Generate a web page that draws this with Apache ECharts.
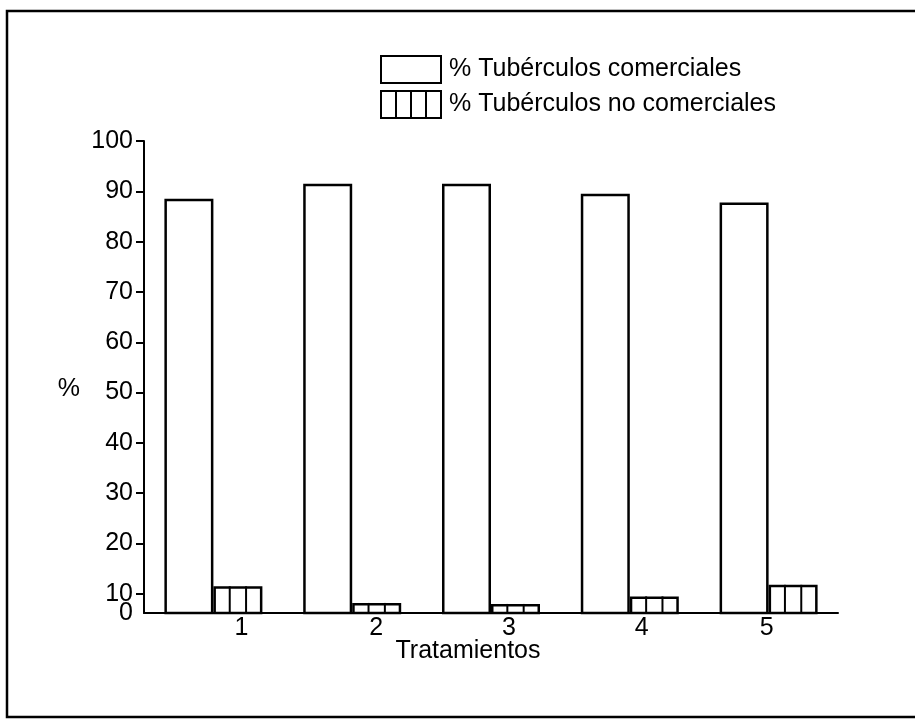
<!DOCTYPE html>
<html><head><meta charset="utf-8">
<script src="https://cdn.jsdelivr.net/npm/echarts@6/dist/echarts.min.js"></script>
<style>html,body{margin:0;padding:0;background:#fff}#c{width:915px;height:720px}</style>
</head><body><div id="c"></div>
<script>
const categories = ['1', '2', '3', '4', '5'];
const comerciales = [88.5, 91.5, 91.5, 89.5, 87.8];
const noComerciales = [11.5, 8.2, 8.0, 9.5, 11.8];
const yTickValues = [10, 20, 30, 40, 50, 60, 70, 80, 90, 100];
const seriesNames = ['% Tubérculos comerciales', '% Tubérculos no comerciales'];
const xName = 'Tratamientos';
const yName = '%';

const Y_MIN = 6.2;   // baseline of the (compressed) axis, labelled "0" in the original
const Y_MAX = 100;
const BAR_W = 49;
const FONT = '"Liberation Sans", Arial, Helvetica, sans-serif';
const FS = 25;
// per-category label shifts (the original's labels sit right of the bar pairs)
const labelShift = [28, 24, 18, 12, -2];

const rich = {};
labelShift.forEach((s, i) => {
  rich['c' + i] = {fontSize: FS, fontFamily: FONT, color: '#000',
    padding: s >= 0 ? [0, 0, 0, 2 * s] : [0, -2 * s, 0, 0]};
});

const chart = echarts.init(document.getElementById('c'), null, {renderer: 'canvas'});
chart.setOption({
  animation: false,
  backgroundColor: '#fff',
  textStyle: {fontFamily: FONT, color: '#000'},
  graphic: [{
    type: 'rect', silent: true,
    shape: {x: 7, y: 11, width: 940, height: 706},
    style: {fill: 'none', stroke: '#000', lineWidth: 2.5}
  }],
  legend: {
    orient: 'vertical', left: 380, top: 55, padding: 0,
    itemWidth: 60, itemHeight: 27, itemGap: 6,
    selectedMode: false,
    textStyle: {fontSize: FS, color: '#000', fontFamily: FONT, padding: [2, 0, 0, 3]},
    itemStyle: {color: '#fff', borderColor: '#000', borderWidth: 2},
    data: [
      {name: seriesNames[0], icon: 'rect'},
      {name: seriesNames[1], icon: 'path://M0,0H60V27H0Z M15,0V27 M30,0V27 M45,0V27'}
    ]
  },
  grid: {left: 144, right: 77, top: 141, bottom: 107, containLabel: false},
  xAxis: {
    type: 'category', data: categories,
    axisLine: {lineStyle: {color: '#000', width: 2}},
    axisTick: {show: false},
    axisLabel: {
      fontSize: FS, color: '#000', margin: 3, fontFamily: FONT,
      formatter: (v, i) => '{c' + i + '|' + v + '}',
      rich: rich
    },
    name: xName, nameLocation: 'middle', nameGap: 26, nameMoveOverlap: false,
    nameTextStyle: {fontSize: FS, color: '#000', fontFamily: FONT, padding: [0, 46, 0, 0]}
  },
  yAxis: [
    {
      type: 'value', min: Y_MIN, max: Y_MAX,
      splitLine: {show: false},
      axisLine: {show: true, lineStyle: {color: '#000', width: 2}},
      axisTick: {show: true, length: 8, customValues: yTickValues, lineStyle: {color: '#000', width: 2}},
      axisLabel: {
        fontSize: FS, color: '#000', margin: 11, fontFamily: FONT,
        hideOverlap: false,
        customValues: yTickValues
      },
      name: yName, nameLocation: 'middle', nameGap: 64, nameRotate: 0, nameMoveOverlap: false,
      nameTextStyle: {fontSize: FS, color: '#000', fontFamily: FONT, verticalAlign: 'top'}
    },
    {
      // carries only the baseline label "0" of the original's compressed axis
      type: 'value', min: Y_MIN, max: Y_MAX, position: 'left',
      splitLine: {show: false},
      axisLine: {show: false},
      axisTick: {show: false},
      axisLabel: {
        fontSize: FS, color: '#000', margin: 11, fontFamily: FONT,
        showMinLabel: true, hideOverlap: false,
        customValues: [Y_MIN],
        formatter: () => '0'
      }
    }
  ],
  series: [
    {
      name: seriesNames[0], type: 'bar', data: comerciales,
      barWidth: BAR_W, barGap: '0%',
      itemStyle: {color: '#fff', borderColor: '#000', borderWidth: 2.5}
    },
    {
      name: seriesNames[1], type: 'bar', data: noComerciales,
      barWidth: BAR_W, barGap: '0%',
      itemStyle: {color: '#fff', borderColor: '#000', borderWidth: 2.5}
    },
    {
      name: 'hatch', type: 'custom', silent: true, z: 5,
      data: noComerciales.map((v, i) => [i, v]),
      encode: {x: 0, y: 1},
      renderItem: (params, api) => {
        const top = api.coord([api.value(0), api.value(1)]);
        const base = api.coord([api.value(0), Y_MIN]);
        const x0 = top[0];
        return {
          type: 'group',
          children: [1, 2].map(k => ({
            type: 'line',
            shape: {x1: x0 + BAR_W * k / 3, y1: top[1], x2: x0 + BAR_W * k / 3, y2: base[1]},
            style: {stroke: '#000', lineWidth: 2}
          }))
        };
      }
    }
  ]
});
</script>
</body></html>
